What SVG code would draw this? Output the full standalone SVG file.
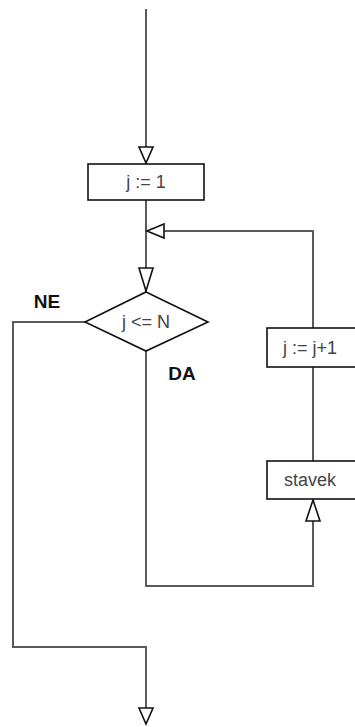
<svg xmlns="http://www.w3.org/2000/svg" width="355" height="727" viewBox="0 0 355 727">
<style>
.ln{fill:none;stroke:#5a5a5a;stroke-width:2}
.bx{fill:#fff;stroke:#111;stroke-width:1.6}
.ar{fill:#fff;stroke:#111;stroke-width:1.6;stroke-linejoin:miter}
.t{font-family:"Liberation Sans",Arial,sans-serif;font-size:18px;fill:#444;text-anchor:middle}
.b{font-family:"Liberation Sans",Arial,sans-serif;font-size:19px;font-weight:bold;fill:#111;text-anchor:middle}
</style>
<g id="connectors">
<line class="ln" x1="146" y1="9" x2="146" y2="164"/>
<polygon class="ar" points="139,147 153,147 146,163"/>
<line class="ln" x1="146" y1="200" x2="146" y2="292"/>
<polyline class="ln" points="313,328 313,231 147,231"/>
<polygon class="ar" points="147,231 164,224 164,238"/>
<polygon class="ar" points="139,268 153,268 146,291"/>
<line class="ln" x1="313" y1="367" x2="313" y2="461"/>
<polyline class="ln" points="146,351 146,586 313,586 313,499"/>
<polygon class="ar" points="313,500 306,521 320,521"/>
<polyline class="ln" points="85,322 13,322 13,647 146,647 146,708"/>
<polygon class="ar" points="139,708 153,708 146,724"/>
</g>
<g id="init">
<rect class="bx" x="88" y="164" width="116" height="36"/>
<text class="t" x="146" y="188">j := 1</text>
</g>
<g id="cond">
<polygon class="bx" points="146,292 208,322 146,351 85,322"/>
<text class="t" x="146" y="328">j &lt;= N</text>
</g>
<g id="label-ne">
<text class="b" x="47" y="308">NE</text>
</g>
<g id="label-da">
<text class="b" x="182" y="380">DA</text>
</g>
<g id="incr">
<rect class="bx" x="267" y="328" width="94" height="39"/>
<text class="t" x="310" y="354">j := j+1</text>
</g>
<g id="body">
<rect class="bx" x="267" y="461" width="94" height="38"/>
<text class="t" x="310" y="486">stavek</text>
</g>
</svg>
